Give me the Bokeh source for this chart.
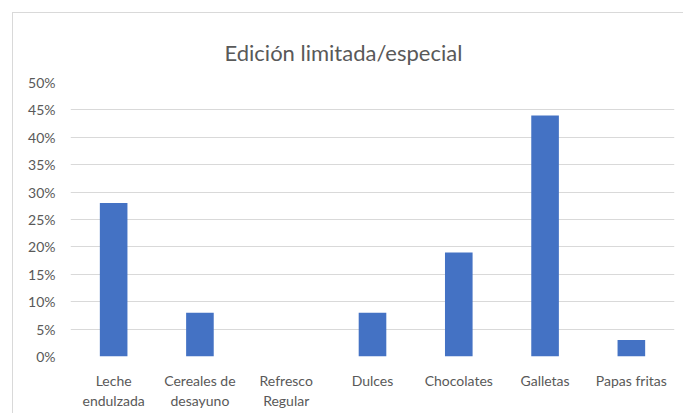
from bokeh.plotting import figure
from bokeh.models import FixedTicker, NumeralTickFormatter, Range1d
from bokeh.embed import file_html
from bokeh.resources import INLINE

categories = ["Leche\nendulzada", "Cereales de\ndesayuno", "Refresco\nRegular",
              "Dulces", "Chocolates", "Galletas", "Papas fritas"]
values = [0.28, 0.08, 0.0, 0.08, 0.19, 0.44, 0.03]
y_ticks = [0, 0.05, 0.10, 0.15, 0.20, 0.25, 0.30, 0.35, 0.40, 0.45, 0.50]
title_text = "Edición limitada/especial"

FONT = "Lato"
GRAY = "#595959"

p = figure(x_range=categories, y_range=Range1d(0, 0.5), width=671, height=401,
           output_backend="svg", toolbar_location=None,
           min_border_left=57, min_border_right=10, min_border_top=69,
           min_border_bottom=58, margin=(12, 0, 0, 12),
           styles={"border-left": "1px solid #d9d9d9", "border-top": "1px solid #d9d9d9"})

p.title.text = title_text
p.title.align = "left"
p.title.offset = 154
p.title.text_font = FONT
p.title.text_font_size = "22px"
p.title.text_font_style = "normal"
p.title.text_color = GRAY
p.title.standoff = 33

p.vbar(x=categories, top=values, width=0.32, color="#4472C4", line_color=None)

p.outline_line_color = None
p.xgrid.grid_line_color = None
p.ygrid.grid_line_color = "#d9d9d9"
p.ygrid.grid_line_width = 1

p.yaxis.ticker = FixedTicker(ticks=y_ticks)
p.yaxis.formatter = NumeralTickFormatter(format="0%")

for ax in (p.xaxis, p.yaxis):
    ax.axis_line_color = None
    ax.major_tick_line_color = None
    ax.minor_tick_line_color = None
    ax.major_label_text_font = FONT
    ax.major_label_text_font_size = "14px"
    ax.major_label_text_color = GRAY

p.yaxis.major_label_standoff = 9
p.xaxis.major_label_standoff = 9

open("out.html", "w").write(file_html(p, INLINE))
